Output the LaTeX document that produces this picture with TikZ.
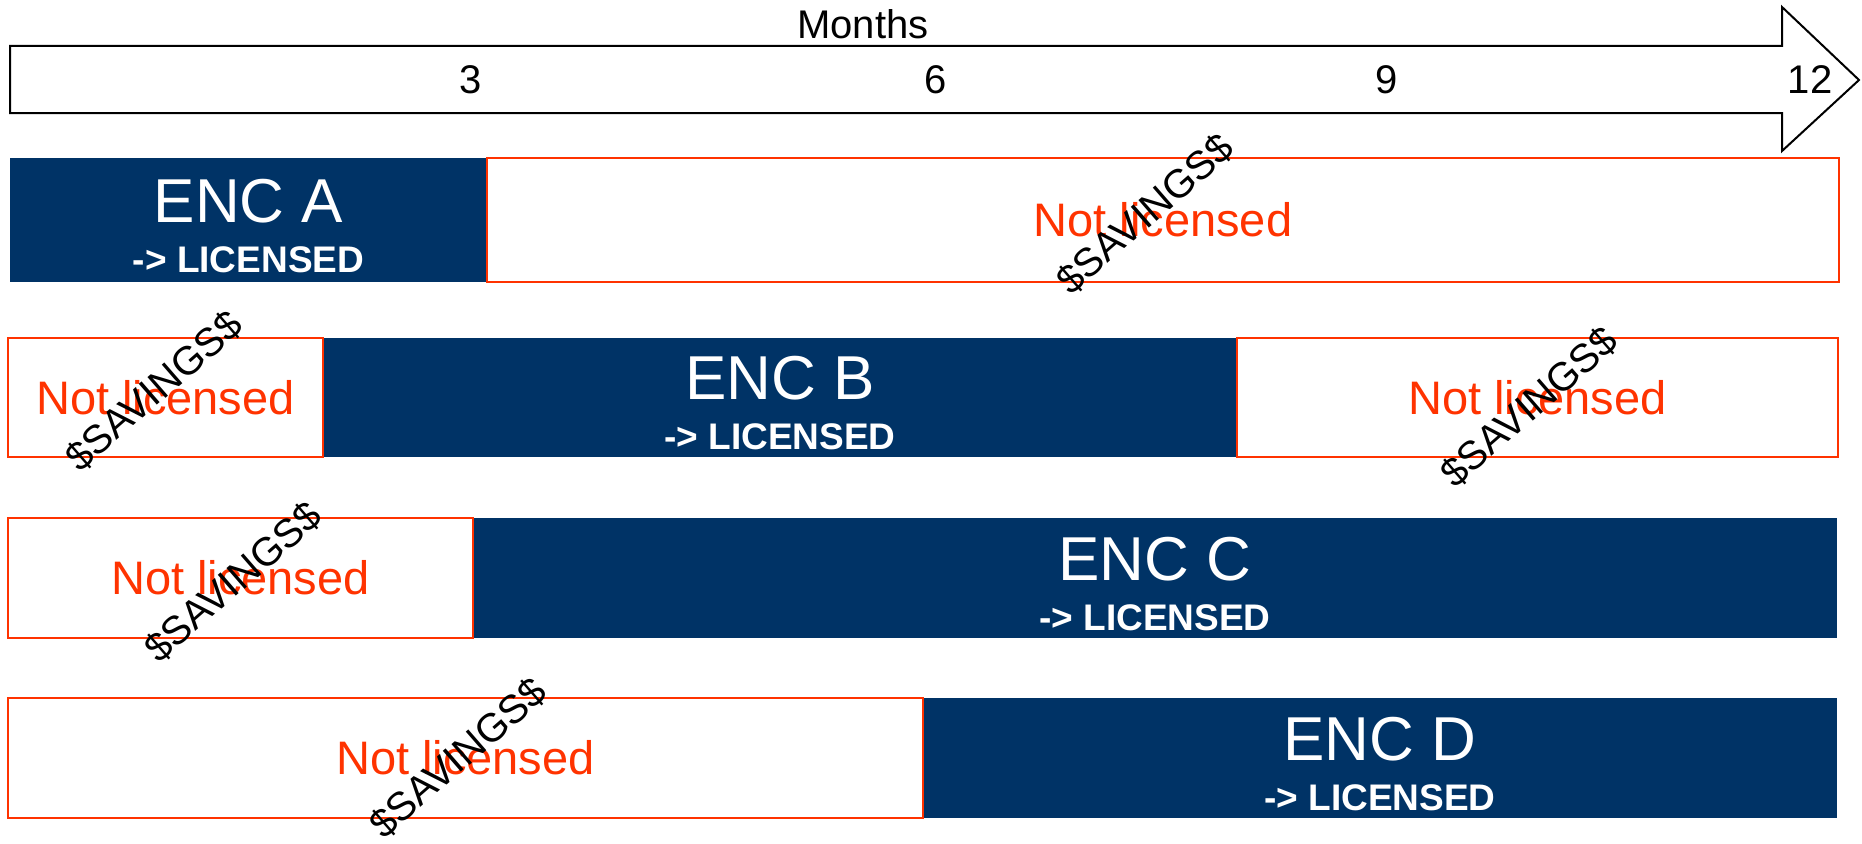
\documentclass[tikz,border=0pt]{standalone}
\usepackage{fontspec}
\setmainfont{Liberation Sans}
\definecolor{encblue}{RGB}{0,51,102}
\definecolor{offred}{RGB}{255,51,0}
\tikzset{
  licbox/.style={fill=encblue, inner sep=0pt, outer sep=0pt},
  freebox/.style={draw=offred, line width=2pt, fill=white, text=offred, inner sep=0pt,
    font=\fontsize{47}{56}\selectfont},
  enctitle/.style={text=white, anchor=base, inner sep=0pt, font=\fontsize{62}{74}\selectfont},
  enclic/.style={text=white, anchor=base, inner sep=0pt, font=\fontsize{37}{44}\selectfont\bfseries},
  monthlabel/.style={anchor=base, inner sep=0pt, font=\fontsize{40}{48}\selectfont},
  savings/.style={rotate=41, inner sep=0pt, font=\fontsize{40}{48}\selectfont}
}
\begin{document}
\begin{tikzpicture}[x=1pt,y=-1pt]
   \useasboundingbox (0,0) rectangle (1862,843);
   % time line
   \draw[line width=2pt, line join=miter, fill=white]
   (10,46) -- (1782,46) -- (1782,7) -- (1859,80) -- (1782,151) -- (1782,113) -- (10,113) -- cycle;
   \node[monthlabel] (months) at (863,39) {Months};
   \node[monthlabel] (m3) at (471,93) {3};
   \node[monthlabel] (m6) at (936,93) {6};
   \node[monthlabel] (m9) at (1387,93) {9};
   \node[monthlabel] (m12) at (1810,93) {12};
   % ENC A
   \node[licbox, minimum width=477pt, minimum height=124pt] (encA) at (248.5,220) {};
   \node[freebox, minimum width=1352pt, minimum height=124pt] (offA) at (1163,220) {Not licensed};
   \node[enctitle] (encAt) at ([yshift=-2pt]encA.center) {ENC A};
   \node[enclic] (encAl) at ([yshift=-52pt]encA.center) {-> LICENSED};
   % ENC B
   \node[licbox, minimum width=914pt, minimum height=119pt] (encB) at (780,397.5) {};
   \node[freebox, minimum width=315pt, minimum height=119pt] (offBa) at (165.5,397.5) {Not licensed};
   \node[freebox, minimum width=601pt, minimum height=119pt] (offBb) at (1537.5,397.5) {Not licensed};
   \node[enctitle] (encBt) at ([yshift=-2pt]encB.center) {ENC B};
   \node[enclic] (encBl) at ([yshift=-52pt]encB.center) {-> LICENSED};
   % ENC C
   \node[licbox, minimum width=1364pt, minimum height=120pt] (encC) at (1155,578) {};
   \node[freebox, minimum width=465pt, minimum height=120pt] (offC) at (240.5,578) {Not licensed};
   \node[enctitle] (encCt) at ([yshift=-2pt]encC.center) {ENC C};
   \node[enclic] (encCl) at ([yshift=-52pt]encC.center) {-> LICENSED};
   % ENC D
   \node[licbox, minimum width=914pt, minimum height=120pt] (encD) at (1380,758) {};
   \node[freebox, minimum width=915pt, minimum height=120pt] (offD) at (465.5,758) {Not licensed};
   \node[enctitle] (encDt) at ([yshift=-2pt]encD.center) {ENC D};
   \node[enclic] (encDl) at ([yshift=-52pt]encD.center) {-> LICENSED};
   % savings
   \node[savings] (savA) at (1145,214) {\$SAVINGS\$};
   \node[savings] (savBa) at (154,391) {\$SAVINGS\$};
   \node[savings] (savBb) at (1529,407) {\$SAVINGS\$};
   \node[savings] (savC) at (233,582) {\$SAVINGS\$};
   \node[savings] (savD) at (458,758) {\$SAVINGS\$};
 \end{tikzpicture}
\end{document}
